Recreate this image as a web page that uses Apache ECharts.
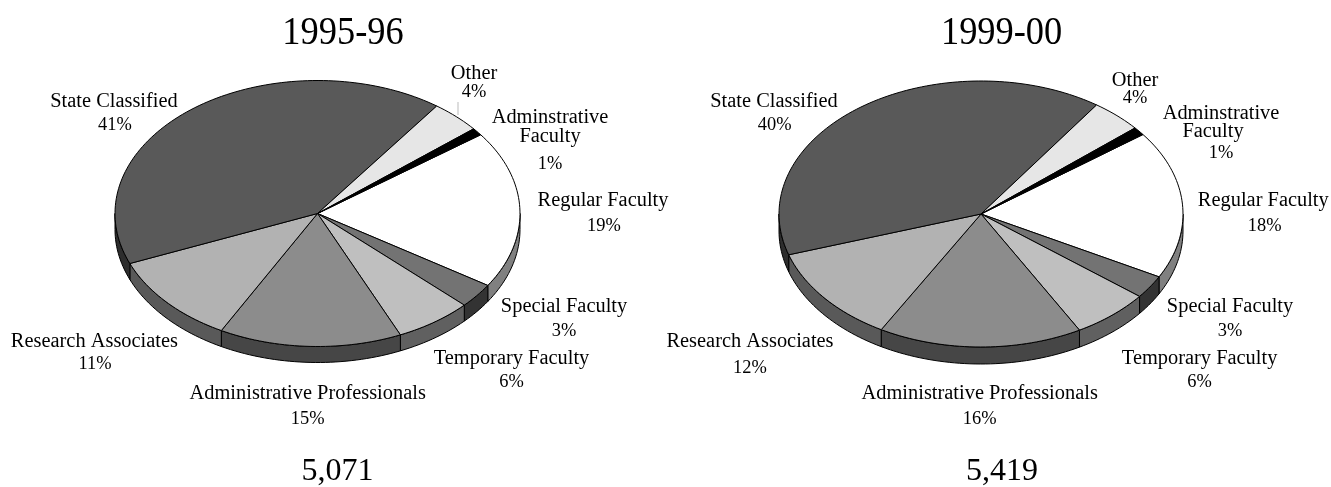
<!DOCTYPE html>
<html><head><meta charset="utf-8">
<style>html,body{margin:0;padding:0;background:#fff}#c{width:1331px;height:487px}</style>
<script src="https://cdn.jsdelivr.net/npm/echarts@6/dist/echarts.min.js"></script>
</head><body><div id="c"></div>
<script>
const categories = ['Regular Faculty','Special Faculty','Temporary Faculty','Administrative Professionals','Research Associates','State Classified','Other','Adminstrative Faculty'];
const values9596 = [19.2,3.0,6.2,14.6,11.0,41.2,4.0,0.9];
const values9900 = [18.0,2.8,6.25,16.3,11.8,39.6,4.1,1.0];
const pctLabels9596 = ['19%','3%','6%','15%','11%','41%','4%','1%'];
const pctLabels9900 = ['18%','3%','6%','16%','12%','40%','4%','1%'];
const topColors = ['#ffffff','#737373','#bfbfbf','#8c8c8c','#b2b2b2','#595959','#e6e6e6','#000000'];
const wallColors = ['#808080','#333333','#606060','#464646','#595959','#2d2d2d','#737373','#000000'];

const FONT = '"Liberation Serif", serif';
// layout: name line(s) and percent positions [cx, cy]
const layouts = [
  {cx:317.5, cy:213.5, rx:202.5, ry:133, depth:16, start:36.3,
   names:[[[603,200]],[[564,305.7]],[[511.5,357.7]],[[307.7,392.7]],[[94.4,340.7]],[[114,100.7]],[[474,73]],[[550,117],[550,136]]],
   pcts:[[604,225],[564,330],[511.5,381],[307.7,417.7],[95,363],[115,124],[474,91],[550,163]]},
  {cx:981, cy:214, rx:202, ry:133, depth:17, start:36.7,
   names:[[[1263.3,200]],[[1230,305.7]],[[1199.6,357.7]],[[979.7,392.7]],[[750,340.7]],[[774,100.7]],[[1135,79.3]],[[1221,112.3],[1213,131]]],
   pcts:[[1264.6,225],[1230,330],[1199.6,381],[979.7,418],[750,367],[774.7,124],[1135,97.3],[1221,152]]}
];
function arc(L, a0, a1, dy){
  const n = Math.max(2, Math.ceil(Math.abs(a1-a0)/1.5)+1), pts=[];
  for(let i=0;i<n;i++){
    const a=(a0+(a1-a0)*i/(n-1))*Math.PI/180;
    pts.push([L.cx+L.rx*Math.cos(a), L.cy-L.ry*Math.sin(a)+dy]);
  }
  return pts;
}
function spans(vals, L){
  const sum=vals.reduce((a,b)=>a+b,0); let a=L.start;
  return vals.map(v=>{const s=a; a-=v/sum*360; return [s,a];});
}
function wallSeries(vals, L){
  const sp=spans(vals,L);
  return {type:'custom',coordinateSystem:'none',z:1,silent:true,data:vals.map((v,i)=>[v,i]),
    renderItem(p,api){
      const i=p.dataIndex; let [s,e]=sp[i]; const parts=[];
      for(const [lo,hi] of [[-180,0],[-540,-360]]){
        const a0=Math.min(s,hi), a1=Math.max(e,lo);
        if(a0>a1){
          const pts=arc(L,a0,a1,0).concat(arc(L,a1,a0,L.depth));
          parts.push({type:'polygon',shape:{points:pts},style:{fill:wallColors[i],stroke:'#000',lineWidth:1}});
        }
      }
      return {type:'group',children:parts};
    }};
}
function topSeries(vals, pcts, L){
  const sp=spans(vals,L);
  return {type:'custom',coordinateSystem:'none',z:2,silent:true,data:vals.map((v,i)=>[v,i]),
    renderItem(p,api){
      const i=p.dataIndex, [s,e]=sp[i];
      const pts=[[L.cx,L.cy]].concat(arc(L,s,e,0));
      const kids=[{type:'polygon',shape:{points:pts},style:{fill:topColors[i],stroke:'#000',lineWidth:1,lineJoin:'round'}}];
      const words=i===7?['Adminstrative','Faculty']:[categories[i]];
      const txt=(t,pos,size,sx)=>({type:'text',x:pos[0],y:pos[1]+1,scaleX:sx,z2:10,style:{text:t,fill:'#000',font:size+'px '+FONT,textAlign:'center',textVerticalAlign:'middle'}});
      words.forEach((w,k)=>kids.push(txt(w,L.names[i][k],20,1.02)));
      kids.push(txt(pcts[i],L.pcts[i],19,0.97));
      return {type:'group',children:kids};
    }};
}
const bigTexts = [['1995-96',343,32,40,0.91],['1999-00',1001.6,32,40,0.91],['5,071',337.6,470.7,32,1],['5,419',1002,470.7,32,1]];
const chart=echarts.init(document.getElementById('c'),null,{renderer:'canvas'});
chart.setOption({
  animation:false,backgroundColor:'#fff',
  series:[wallSeries(values9596,layouts[0]),topSeries(values9596,pctLabels9596,layouts[0]),
          wallSeries(values9900,layouts[1]),topSeries(values9900,pctLabels9900,layouts[1])],
  graphic:bigTexts.map(t=>({type:'text',x:t[1],y:t[2]+1,scaleX:t[4],style:{text:t[0],fill:'#000',font:t[3]+'px '+FONT,textAlign:'center',textVerticalAlign:'middle'}}))
    .concat([{type:'line',shape:{x1:458,y1:102,x2:458,y2:115},style:{stroke:'#bbbbbb',lineWidth:1}}])
});
</script></body></html>
